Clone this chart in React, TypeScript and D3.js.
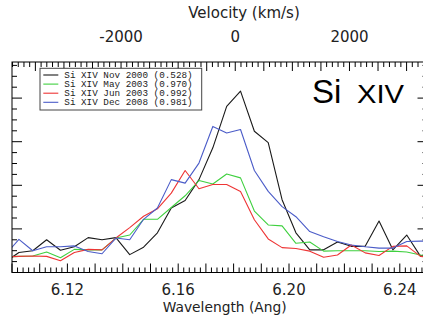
import React from "react";
import * as d3 from "d3";

const wavelengths = [6.0975, 6.1025, 6.1075, 6.1125, 6.1175, 6.1225, 6.1275, 6.1325, 6.1375, 6.1425, 6.1475, 6.1525, 6.1575, 6.1625, 6.1675, 6.1725, 6.1775, 6.1825, 6.1875, 6.1925, 6.1975, 6.2025, 6.2075, 6.2125, 6.2175, 6.2225, 6.2275, 6.2325, 6.2375, 6.2425, 6.2475, 6.2525];

const nov2000 = [0.24, 0.46, 0.50, 0.75, 0.51, 0.59, 0.80, 0.75, 0.80, 0.41, 0.58, 0.91, 1.48, 1.65, 2.13, 2.86, 3.81, 4.16, 3.24, 2.98, 1.67, 0.91, 0.52, 0.52, 0.70, 0.60, 0.60, 1.18, 0.52, 0.86, 0.37, 0.52];
const may2003 = [0.36, 0.37, 0.38, 0.47, 0.34, 0.53, 0.52, 0.52, 0.79, 0.86, 1.22, 1.22, 1.49, 1.76, 2.11, 2.03, 2.26, 2.17, 1.41, 1.09, 1.07, 0.67, 0.70, 0.49, 0.50, 0.50, 0.50, 0.48, 0.49, 0.47, 0.40, 0.38];
const jun2003 = [0.36, 0.37, 0.38, 0.37, 0.27, 0.46, 0.53, 0.52, 0.79, 1.03, 1.29, 1.46, 1.82, 2.34, 1.92, 2.02, 2.02, 1.86, 1.21, 0.77, 0.57, 0.55, 0.49, 0.35, 0.40, 0.63, 0.45, 0.39, 0.60, 0.61, 0.37, 0.33];
const dec2008 = [0.40, 0.76, 0.50, 0.59, 0.59, 0.61, 0.48, 0.43, 0.79, 0.75, 1.22, 1.48, 2.13, 2.05, 2.51, 3.35, 3.20, 3.28, 2.34, 1.86, 1.51, 1.28, 0.94, 0.82, 0.71, 0.63, 0.59, 0.56, 0.56, 0.71, 0.72, 0.72];

const seriesLabels = [
  "Si XIV Nov 2000 (0.528)",
  "Si XIV May 2003 (0.970)",
  "Si XIV Jun 2003 (0.992)",
  "Si XIV Dec 2008 (0.981)",
];
const seriesColors = ["#1a1a1a", "#3fd03f", "#ee3535", "#4b5cc8"];
const seriesValues = [nov2000, may2003, jun2003, dec2008];

const wavelengthTickLabels = [6.12, 6.16, 6.2, 6.24];
const velocityTickLabels = [-2000, 0, 2000];

const LAMBDA0 = 6.1806;
const C_KMS = 299792;

export default function App() {
  const W = 423, H = 321;
  const left = 12, right = 427.5, top = 62, bottom = 272.5;
  const x = d3.scaleLinear().domain([6.10, 6.25]).range([left, right]);
  const yMax = (bottom - top) / 43.6;
  const y = d3.scaleLinear().domain([0, yMax]).range([bottom, top]);
  const toV = (l: number) => ((l - LAMBDA0) / LAMBDA0) * C_KMS;
  const v = d3.scaleLinear().domain([toV(6.10), toV(6.25)]).range([left, right]);

  const line = d3.line<number>().x((_, i) => x(wavelengths[i])).y((d) => y(d));

  const font = "'DejaVu Sans', sans-serif";

  const botTicks: JSX.Element[] = [];
  for (let i = 0; i <= 75; i++) {
    const w = 6.10 + i * 0.002;
    const major = i % 5 === 0;
    const len = major ? 9 : 5;
    const px = x(w);
    botTicks.push(<line key={"b" + i} x1={px} x2={px} y1={bottom} y2={bottom - len} stroke="#000" strokeWidth={1} />);
  }
  const topTicks: JSX.Element[] = [];
  for (let vv = -3900; vv <= 3400; vv += 100) {
    const px = v(vv);
    if (px < left || px > right) continue;
    const major = vv % 500 === 0;
    const len = major ? 9 : 5;
    topTicks.push(<line key={"t" + vv} x1={px} x2={px} y1={top} y2={top + len} stroke="#000" strokeWidth={1} />);
  }
  const sideTicks: JSX.Element[] = [];
  for (let i = 0; i * 0.25 <= yMax + 1e-6; i++) {
    const py = y(i * 0.25);
    const major = i % 4 === 0;
    const len = major ? 10 : 5;
    sideTicks.push(<line key={"l" + i} x1={left} x2={left + len} y1={py} y2={py} stroke="#000" strokeWidth={1} />);
    sideTicks.push(<line key={"r" + i} x1={right} x2={right - len} y1={py} y2={py} stroke="#000" strokeWidth={1} />);
  }

  return (
    <svg width={W} height={H} style={{ position: "fixed", left: 0, top: 0, background: "#fff" }}>
      <rect x={0} y={0} width={W} height={H} fill="#fff" />
      <defs>
        <clipPath id="plotclip">
          <rect x={left} y={top} width={right - left} height={bottom - top} />
        </clipPath>
      </defs>
      <g clipPath="url(#plotclip)">
        {seriesValues.map((vals, i) => (
          <path key={i} d={line(vals) || ""} fill="none" stroke={seriesColors[i]} strokeWidth={1.1} strokeLinejoin="round" />
        ))}
      </g>
      <rect x={left} y={top} width={right - left} height={bottom - top} fill="none" stroke="#000" strokeWidth={1} />
      {botTicks}
      {topTicks}
      {sideTicks}
      {wavelengthTickLabels.map((t) => (
        <text key={t} x={x(t)} y={295} textAnchor="middle" fontFamily={font} fontSize={15} fill="#222">
          {t.toFixed(2)}
        </text>
      ))}
      <text x={224.7} y={311.5} textAnchor="middle" fontFamily={font} fontSize={13.8} fill="#222">
        Wavelength (Ang)
      </text>
      {velocityTickLabels.map((t) => (
        <text key={t} x={v(t)} y={41.7} textAnchor="middle" fontFamily={font} fontSize={15} fill="#222">
          {String(t)}
        </text>
      ))}
      <text x={244} y={18.3} textAnchor="middle" fontFamily={font} fontSize={15} fill="#222">
        Velocity (km/s)
      </text>
      <text x={312} y={102.7} fontFamily="'Liberation Sans', Arial, sans-serif" fontSize={33} fill="#000">Si</text>
      <text x={357} y={102.7} fontFamily="'Liberation Sans', Arial, sans-serif" fontSize={26} fill="#000" textLength={47} lengthAdjust="spacingAndGlyphs">XIV</text>
      <g>
        <rect x={40} y={68.3} width={161.7} height={41.7} fill="#fff" stroke="#444" strokeWidth={1} />
        {seriesLabels.map((lab, i) => {
          const ly = 75 + i * 9.1;
          return (
            <g key={lab}>
              <line x1={43.3} x2={58.3} y1={ly} y2={ly} stroke={seriesColors[i]} strokeWidth={1.1} />
              <text x={64.3} y={ly + 3} fontFamily="'Liberation Mono', 'DejaVu Sans Mono', monospace" fontSize={8.6} fill="#222" textLength={128.4} lengthAdjust="spacingAndGlyphs">
                {lab}
              </text>
            </g>
          );
        })}
      </g>
    </svg>
  );
}
